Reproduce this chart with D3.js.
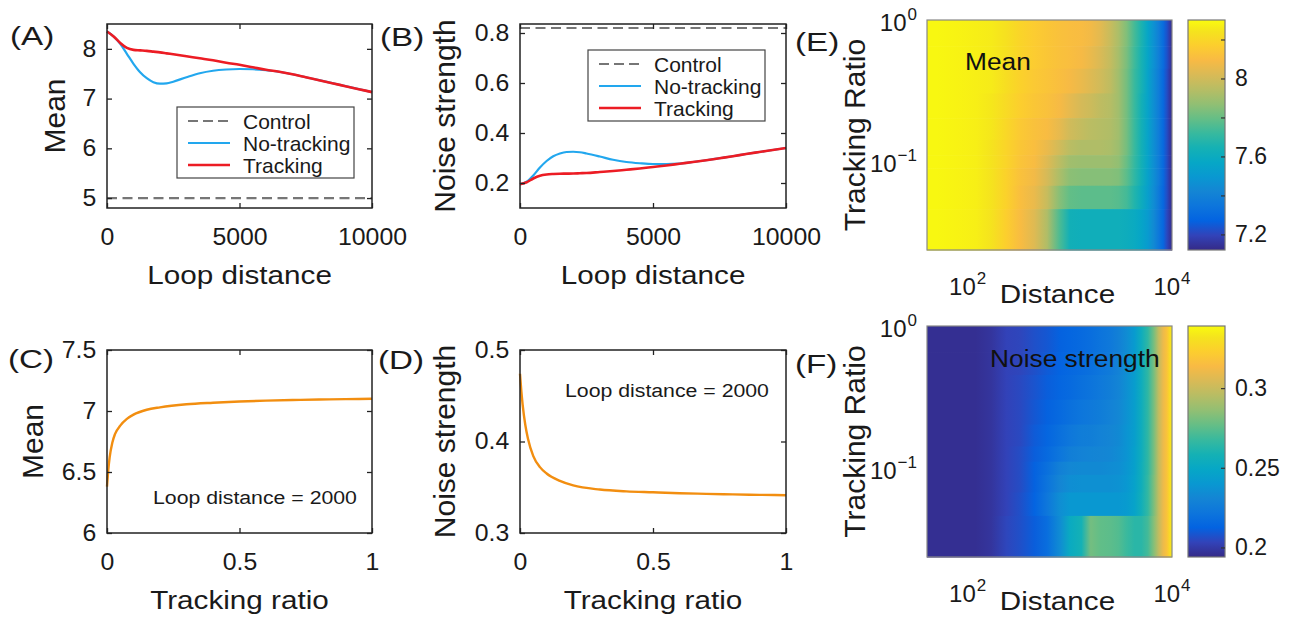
<!DOCTYPE html>
<html>
<head>
<meta charset="utf-8">
<script src="https://cdn.jsdelivr.net/npm/d3@7"></script>
<style>
  body { margin: 0; background: #fff; }
  text { font-family: Arial, "Liberation Sans", Helvetica, sans-serif; fill: #1a1a1a; }
</style>
</head>
<body>
<script>
// ---- data ----
var loopDist = [0, 250, 500, 750, 1000, 1250, 1500, 1750, 2000, 2250, 2500, 3000, 3500,
                4000, 4500, 5000, 5500, 6000, 6500, 7000, 7500, 8000, 8500, 9000, 9500, 10000];
var meanTrack   = [8.35, 8.25, 8.12, 8.02, 7.98, 7.97, 7.96, 7.945, 7.93, 7.91, 7.89, 7.85, 7.81,
                   7.77, 7.72, 7.68, 7.63, 7.58, 7.54, 7.49, 7.43, 7.37, 7.31, 7.25, 7.19, 7.13];
var meanNoTrack = [8.35, 8.25, 8.10, 7.90, 7.70, 7.53, 7.41, 7.33, 7.30, 7.305, 7.34, 7.43, 7.51,
                   7.56, 7.585, 7.595, 7.59, 7.57, 7.54, 7.49, 7.43, 7.37, 7.31, 7.25, 7.19, 7.13];
var meanControl = 5.0;

var noiseTrack   = [0.195, 0.203, 0.218, 0.229, 0.234, 0.236, 0.237, 0.2375, 0.238, 0.239, 0.240, 0.244, 0.248,
                    0.253, 0.258, 0.264, 0.270, 0.277, 0.284, 0.291, 0.299, 0.307, 0.316, 0.324, 0.332, 0.340];
var noiseNoTrack = [0.195, 0.205, 0.230, 0.262, 0.288, 0.307, 0.318, 0.324, 0.325, 0.323, 0.318, 0.306, 0.293,
                    0.284, 0.279, 0.276, 0.276, 0.278, 0.284, 0.291, 0.299, 0.307, 0.316, 0.324, 0.332, 0.340];
var noiseControl = 0.82;

var trackRatio   = [0, 0.005, 0.01, 0.02, 0.03, 0.05, 0.075, 0.1, 0.15, 0.2, 0.3, 0.4, 0.5, 0.6, 0.7, 0.8, 0.9, 1];
var meanVsRatio  = [6.38, 6.52, 6.62, 6.74, 6.81, 6.88, 6.935, 6.97, 7.01, 7.03, 7.055, 7.068, 7.078, 7.085, 7.09, 7.094, 7.097, 7.10];
var noiseVsRatio = [0.474, 0.455, 0.440, 0.418, 0.403, 0.384, 0.372, 0.365, 0.357, 0.352, 0.3475, 0.3455, 0.3445, 0.3435, 0.3428, 0.3422, 0.3417, 0.3413];

// heat map grid: distance columns, tracking-ratio row edges (top to bottom)
var gridDist = [50, 80, 120, 170, 240, 330, 450, 600, 800, 1000, 1300, 1600, 2000, 2500, 3000,
                3600, 4300, 5000, 5800, 6600, 7400, 8200, 8900, 9500, 10000];
var gridRatioEdges = [1, 0.65, 0.45, 0.3, 0.2, 0.14, 0.109, 0.088, 0.066, 0.045, 0.023];

var meanGrid = [
  [8.29, 8.28, 8.27, 8.26, 8.23, 8.19, 8.16, 8.14, 8.12, 8.11, 8.10, 8.08, 8.04, 7.98, 7.92, 7.84, 7.74, 7.66, 7.56, 7.47, 7.39, 7.31, 7.23, 7.17, 7.13],
  [8.29, 8.28, 8.27, 8.26, 8.23, 8.19, 8.16, 8.14, 8.12, 8.11, 8.09, 8.06, 8.02, 7.97, 7.91, 7.83, 7.73, 7.65, 7.56, 7.47, 7.39, 7.31, 7.23, 7.17, 7.13],
  [8.29, 8.28, 8.27, 8.26, 8.22, 8.18, 8.15, 8.13, 8.11, 8.09, 8.06, 8.03, 8.00, 7.96, 7.90, 7.82, 7.72, 7.65, 7.55, 7.46, 7.38, 7.30, 7.22, 7.16, 7.13],
  [8.29, 8.28, 8.27, 8.25, 8.21, 8.17, 8.14, 8.12, 8.09, 8.05, 8.01, 7.99, 7.96, 7.94, 7.90, 7.82, 7.72, 7.64, 7.55, 7.46, 7.38, 7.30, 7.22, 7.16, 7.13],
  [8.29, 8.28, 8.27, 8.25, 8.20, 8.15, 8.12, 8.10, 8.05, 8.00, 7.97, 7.95, 7.94, 7.93, 7.90, 7.82, 7.72, 7.64, 7.55, 7.46, 7.38, 7.30, 7.22, 7.16, 7.13],
  [8.29, 8.28, 8.27, 8.24, 8.19, 8.14, 8.11, 8.06, 8.00, 7.95, 7.93, 7.93, 7.93, 7.92, 7.89, 7.82, 7.72, 7.64, 7.55, 7.46, 7.38, 7.30, 7.22, 7.16, 7.13],
  [8.29, 8.28, 8.27, 8.24, 8.19, 8.13, 8.10, 8.03, 7.95, 7.90, 7.89, 7.89, 7.89, 7.89, 7.87, 7.80, 7.71, 7.64, 7.55, 7.46, 7.38, 7.30, 7.22, 7.16, 7.13],
  [8.29, 8.28, 8.27, 8.24, 8.18, 8.12, 8.08, 8.01, 7.92, 7.86, 7.85, 7.85, 7.85, 7.85, 7.84, 7.78, 7.70, 7.63, 7.54, 7.46, 7.38, 7.30, 7.22, 7.16, 7.13],
  [8.29, 8.28, 8.27, 8.24, 8.18, 8.11, 8.06, 7.98, 7.85, 7.79, 7.78, 7.78, 7.78, 7.78, 7.77, 7.74, 7.67, 7.61, 7.53, 7.45, 7.37, 7.29, 7.22, 7.16, 7.13],
  [8.29, 8.28, 8.27, 8.24, 8.17, 8.10, 8.03, 7.93, 7.75, 7.63, 7.62, 7.62, 7.62, 7.62, 7.62, 7.61, 7.59, 7.56, 7.51, 7.44, 7.36, 7.29, 7.21, 7.16, 7.13]
];

var noiseGrid = [
  [0.196, 0.196, 0.196, 0.198, 0.203, 0.204, 0.207, 0.209, 0.212, 0.214, 0.216, 0.218, 0.221, 0.224, 0.228, 0.234, 0.242, 0.254, 0.265, 0.280, 0.298, 0.310, 0.318, 0.328, 0.336],
  [0.196, 0.196, 0.196, 0.198, 0.203, 0.204, 0.207, 0.210, 0.213, 0.215, 0.217, 0.219, 0.222, 0.225, 0.229, 0.235, 0.243, 0.254, 0.265, 0.280, 0.298, 0.310, 0.318, 0.328, 0.336],
  [0.196, 0.196, 0.196, 0.198, 0.203, 0.205, 0.208, 0.211, 0.214, 0.216, 0.219, 0.221, 0.224, 0.227, 0.230, 0.236, 0.243, 0.254, 0.265, 0.280, 0.298, 0.310, 0.318, 0.328, 0.336],
  [0.196, 0.196, 0.196, 0.198, 0.203, 0.205, 0.209, 0.212, 0.216, 0.219, 0.222, 0.224, 0.226, 0.229, 0.232, 0.237, 0.244, 0.254, 0.265, 0.280, 0.298, 0.310, 0.318, 0.328, 0.336],
  [0.196, 0.196, 0.196, 0.198, 0.203, 0.205, 0.210, 0.214, 0.219, 0.223, 0.226, 0.227, 0.229, 0.231, 0.233, 0.238, 0.244, 0.254, 0.265, 0.280, 0.298, 0.310, 0.318, 0.328, 0.336],
  [0.196, 0.196, 0.196, 0.198, 0.203, 0.206, 0.211, 0.216, 0.222, 0.227, 0.229, 0.230, 0.231, 0.232, 0.234, 0.238, 0.245, 0.254, 0.265, 0.280, 0.298, 0.310, 0.318, 0.328, 0.336],
  [0.196, 0.196, 0.196, 0.198, 0.203, 0.206, 0.212, 0.219, 0.228, 0.232, 0.233, 0.233, 0.233, 0.234, 0.235, 0.239, 0.245, 0.255, 0.265, 0.280, 0.298, 0.310, 0.318, 0.328, 0.336],
  [0.196, 0.196, 0.196, 0.198, 0.203, 0.206, 0.212, 0.221, 0.231, 0.235, 0.236, 0.236, 0.236, 0.236, 0.237, 0.240, 0.246, 0.255, 0.266, 0.281, 0.298, 0.310, 0.318, 0.328, 0.336],
  [0.196, 0.196, 0.196, 0.198, 0.203, 0.207, 0.213, 0.223, 0.235, 0.240, 0.240, 0.240, 0.240, 0.240, 0.240, 0.242, 0.247, 0.256, 0.266, 0.281, 0.298, 0.310, 0.318, 0.328, 0.336],
  [0.196, 0.196, 0.196, 0.198, 0.204, 0.207, 0.211, 0.218, 0.234, 0.252, 0.258, 0.280, 0.276, 0.275, 0.273, 0.268, 0.264, 0.264, 0.270, 0.283, 0.298, 0.310, 0.318, 0.328, 0.336]
];

var meanCbTicks  = [7.2, 7.4, 7.6, 7.8, 8.0, 8.2];
var meanCbLabels = ["7.2", "", "7.6", "", "8", ""];
var noiseCbTicks  = [0.2, 0.25, 0.3];
var noiseCbLabels = ["0.2", "0.25", "0.3"];

// MATLAB parula, every 4th entry of the 64-colour map
var parulaPos = [0, 4, 8, 12, 16, 20, 24, 28, 32, 36, 40, 44, 48, 52, 56, 60, 63];
var parula = ["#352a87", "#3243b9", "#0363e1", "#0d75dc", "#1485d4", "#0998d1", "#06a7c6", "#15b1b4",
              "#38b99e", "#65be86", "#92bf73", "#b7bd64", "#d9ba56", "#f8ba44", "#fcce2e", "#f5e41d", "#f9fb0e"];

var width = 1300, height = 619;
var svg = d3.select("body").append("svg")
    .attr("width", width)
    .attr("height", height);
var defs = svg.append("defs");

// horizontal text in the figure is wider than Arial, so stretch it a little
function label(g, x, y, str, size, anchor, sx, rotate) {
  return g.append("text")
      .attr("font-size", size)
      .attr("text-anchor", anchor || "start")
      .attr("transform", "translate(" + x + "," + y + ")" +
            (rotate ? " rotate(-90)" : "") + " scale(" + (sx || 1) + ",1)")
      .text(str);
}

function styleAxis(ax, size, sx) {
  ax.select(".domain").remove();
  ax.selectAll("line").attr("stroke", "#222").attr("stroke-width", 1.3);
  ax.selectAll("text")
      .attr("font-size", size)
      .attr("fill", "#1a1a1a")
      .attr("transform", "scale(" + (sx || 1.08) + ",1)");
}

function linePanel(c) {
  var x = d3.scaleLinear().domain(c.xDomain).range([c.left, c.right]);
  var y = d3.scaleLinear().domain(c.yDomain).range([c.bottom, c.top]);
  var g = svg.append("g");

  var line = d3.line()
      .x(function(d){ return x(d[0]); })
      .y(function(d){ return y(d[1]); })
      .curve(d3.curveMonotoneX);

  c.series.forEach(function(s){
    var pts = s.y.map(function(v, i){ return [s.x[i], v]; });
    g.append("path")
        .datum(pts)
        .attr("fill", "none")
        .attr("stroke", s.color)
        .attr("stroke-width", s.width)
        .attr("stroke-dasharray", s.dash || null)
        .attr("d", line);
  });

  // box and inward ticks on all four sides
  g.append("rect")
      .attr("x", c.left).attr("y", c.top)
      .attr("width", c.right - c.left).attr("height", c.bottom - c.top)
      .attr("fill", "none").attr("stroke", "#222").attr("stroke-width", 1.5);

  var bx = g.append("g").attr("transform", "translate(0," + c.bottom + ")")
      .call(d3.axisBottom(x).tickValues(c.xTicks).tickFormat(c.xFmt)
            .tickSizeInner(-5).tickSizeOuter(0).tickPadding(21));
  styleAxis(bx, 23);
  var tx = g.append("g").attr("transform", "translate(0," + c.top + ")")
      .call(d3.axisTop(x).tickValues(c.xTicks).tickFormat("").tickSizeInner(-5).tickSizeOuter(0));
  styleAxis(tx, 23);
  var ly = g.append("g").attr("transform", "translate(" + c.left + ",0)")
      .call(d3.axisLeft(y).tickValues(c.yTicks).tickFormat(c.yFmt)
            .tickSizeInner(-5).tickSizeOuter(0).tickPadding(10));
  styleAxis(ly, 23);
  var ry = g.append("g").attr("transform", "translate(" + c.right + ",0)")
      .call(d3.axisRight(y).tickValues(c.yTicks).tickFormat("").tickSizeInner(-5).tickSizeOuter(0));
  styleAxis(ry, 23);

  label(g, (c.left + c.right) / 2, c.bottom + 76, c.xLabel, 26.5, "middle", 1.12);
  label(g, c.yLabelX, (c.top + c.bottom) / 2, c.yLabel, 30, "middle", 1, true);
  label(g, c.tagX, c.tagY, c.tag, 25, "start", 1.33);

  if (c.legend) {
    var L = c.legend;
    var lg = g.append("g").attr("transform", "translate(" + L.x + "," + L.y + ")");
    lg.append("rect").attr("width", L.w).attr("height", L.h)
        .attr("fill", "#fff").attr("stroke", "#444").attr("stroke-width", 1.2);
    L.items.forEach(function(it, i){
      var yy = 14 + i * 22;
      lg.append("line").attr("x1", 11).attr("x2", 53).attr("y1", yy).attr("y2", yy)
          .attr("stroke", it.color).attr("stroke-width", it.width)
          .attr("stroke-dasharray", it.dash || null);
      label(lg, 66, yy + 7.5, it.label, 21, "start", 1);
    });
  }
  if (c.note) label(g, c.note.x, c.note.y, c.note.text, 19, "start", 1.12);
}

var cControl = "#767676", cNoTrack = "#22a7ee", cTrack = "#ec1c24", cOrange = "#f28e10";
var legendItems = [
  { label: "Control", color: cControl, width: 2, dash: "10,5" },
  { label: "No-tracking", color: cNoTrack, width: 2 },
  { label: "Tracking", color: cTrack, width: 2.5 }
];

// (A)
linePanel({
  left: 107, right: 372, top: 24, bottom: 208,
  xDomain: [0, 10000], yDomain: [4.8, 8.5],
  xTicks: [0, 5000, 10000], yTicks: [5, 6, 7, 8],
  xFmt: d3.format("d"), yFmt: d3.format("d"),
  xLabel: "Loop distance", yLabel: "Mean", yLabelX: 65,
  tag: "(A)", tagX: 10, tagY: 45,
  series: [
    { x: [0, 10000], y: [meanControl, meanControl], color: cControl, width: 2.2, dash: "10,5.5" },
    { x: loopDist, y: meanNoTrack, color: cNoTrack, width: 2.2 },
    { x: loopDist, y: meanTrack, color: cTrack, width: 2.6 }
  ],
  legend: { x: 177, y: 107, w: 177, h: 71, items: legendItems }
});

// (B)
linePanel({
  left: 520, right: 786, top: 24, bottom: 208,
  xDomain: [0, 10000], yDomain: [0.1, 0.836],
  xTicks: [0, 5000, 10000], yTicks: [0.2, 0.4, 0.6, 0.8],
  xFmt: d3.format("d"), yFmt: d3.format(".1f"),
  xLabel: "Loop distance", yLabel: "Noise strength", yLabelX: 455,
  tag: "(B)", tagX: 380, tagY: 46,
  series: [
    { x: [0, 10000], y: [noiseControl, noiseControl], color: cControl, width: 2.2, dash: "10,5.5" },
    { x: loopDist, y: noiseNoTrack, color: cNoTrack, width: 2.2 },
    { x: loopDist, y: noiseTrack, color: cTrack, width: 2.6 }
  ],
  legend: { x: 588, y: 50, w: 177, h: 71, items: legendItems }
});

// (C)
linePanel({
  left: 107, right: 372, top: 350, bottom: 533,
  xDomain: [0, 1], yDomain: [6, 7.5],
  xTicks: [0, 0.5, 1], yTicks: [6, 6.5, 7, 7.5],
  xFmt: d3.format(""), yFmt: d3.format(""),
  xLabel: "Tracking ratio", yLabel: "Mean", yLabelX: 43,
  tag: "(C)", tagX: 8, tagY: 368,
  series: [ { x: trackRatio, y: meanVsRatio, color: cOrange, width: 2.4 } ],
  note: { x: 153, y: 504, text: "Loop distance = 2000" }
});

// (D)
linePanel({
  left: 520, right: 786, top: 350, bottom: 533,
  xDomain: [0, 1], yDomain: [0.3, 0.5],
  xTicks: [0, 0.5, 1], yTicks: [0.3, 0.4, 0.5],
  xFmt: d3.format(""), yFmt: d3.format(".1f"),
  xLabel: "Tracking ratio", yLabel: "Noise strength", yLabelX: 455,
  tag: "(D)", tagX: 378, tagY: 369,
  series: [ { x: trackRatio, y: noiseVsRatio, color: cOrange, width: 2.4 } ],
  note: { x: 565, y: 397, text: "Loop distance = 2000" }
});

// heat maps
var parulaScale = d3.scaleLinear()
    .domain(parulaPos.map(function(p){ return p / 63; }))
    .range(parula)
    .interpolate(d3.interpolateRgb)
    .clamp(true);

function powLabel(g, x, y, exp, anchor) {
  var t = g.append("text").attr("x", x).attr("y", y)
      .attr("font-size", 24).attr("text-anchor", anchor);
  t.append("tspan").text("10");
  t.append("tspan").attr("font-size", 17).attr("dx", 1).attr("dy", -11).text(exp);
}

function heatPanel(c) {
  var x = d3.scaleLog().domain([40, 10000]).range([c.left, c.right]);
  var y = d3.scaleLog().domain([gridRatioEdges[gridRatioEdges.length - 1], 1]).range([c.bottom, c.top]);
  var color = d3.scaleSequential(parulaScale).domain(c.cDomain);
  var g = svg.append("g");
  var id = c.tag.replace(/\W/g, "");

  // one band per tracking-ratio row, shaded across the distance columns
  c.grid.forEach(function(row, r){
    var grad = defs.append("linearGradient")
        .attr("id", "row" + id + r)
        .attr("gradientUnits", "userSpaceOnUse")
        .attr("x1", c.left).attr("x2", c.right).attr("y1", 0).attr("y2", 0);
    row.forEach(function(v, k){
      grad.append("stop")
          .attr("offset", (x(gridDist[k]) - c.left) / (c.right - c.left))
          .attr("stop-color", color(v));
    });
  });
  g.selectAll(".band")
      .data(c.grid)
      .enter()
      .append("rect")
      .attr("class", "band")
      .attr("x", c.left)
      .attr("y", function(d, r){ return y(gridRatioEdges[r]); })
      .attr("width", c.right - c.left)
      .attr("height", function(d, r){ return y(gridRatioEdges[r + 1]) - y(gridRatioEdges[r]) + 0.6; })
      .attr("fill", function(d, r){ return "url(#row" + id + r + ")"; });

  g.append("rect")
      .attr("x", c.left).attr("y", c.top)
      .attr("width", c.right - c.left).attr("height", c.bottom - c.top)
      .attr("fill", "none").attr("stroke", "#888").attr("stroke-width", 1.2);

  powLabel(g, c.left - 10, y(1) + 11, "0", "end");
  powLabel(g, c.left - 10, y(0.1) + 12, "\u22121", "end");
  powLabel(g, x(100), c.bottom + 45, "2", "middle");
  powLabel(g, x(10000), c.bottom + 45, "4", "middle");

  label(g, (c.left + c.right) / 2 + 8, c.bottom + 53, "Distance", 26.5, "middle", 1.12);
  label(g, 865, (c.top + c.bottom) / 2, "Tracking Ratio", 30, "middle", 1, true);
  label(g, 795, c.tagY, c.tag, 25, "start", 1.33);
  label(g, c.title.x, c.title.y, c.title.text, 23.5, "start", 1.12).style("fill", "#111");

  // colour bar
  var cb = { left: 1188, right: 1225 };
  var grad = defs.append("linearGradient")
      .attr("id", "cb" + id).attr("x1", 0).attr("y1", 1).attr("x2", 0).attr("y2", 0);
  parula.forEach(function(col, i){
    grad.append("stop").attr("offset", parulaPos[i] / 63).attr("stop-color", col);
  });
  g.append("rect")
      .attr("x", cb.left).attr("y", c.top)
      .attr("width", cb.right - cb.left).attr("height", c.bottom - c.top)
      .attr("fill", "url(#cb" + id + ")").attr("stroke", "#777").attr("stroke-width", 1.2);
  var cy = d3.scaleLinear().domain(c.cDomain).range([c.bottom, c.top]);
  var cax = g.append("g").attr("transform", "translate(" + cb.right + ",0)")
      .call(d3.axisRight(cy).tickValues(c.cbTicks)
            .tickFormat(function(d, i){ return c.cbLabels[i]; })
            .tickSizeInner(-4).tickSizeOuter(0).tickPadding(10));
  styleAxis(cax, 23, 1);
  cax.selectAll("line").attr("stroke", "#333").attr("stroke-width", 1.2);
  cax.selectAll("text").attr("fill", "#3c3c3c");
}

// (E)
heatPanel({
  left: 927, right: 1172, top: 20, bottom: 250,
  grid: meanGrid, cDomain: [7.12, 8.30],
  cbTicks: meanCbTicks, cbLabels: meanCbLabels,
  tag: "(E)", tagY: 51,
  title: { x: 965, y: 70, text: "Mean" }
});

// (F)
heatPanel({
  left: 927, right: 1172, top: 326, bottom: 557,
  grid: noiseGrid, cDomain: [0.194, 0.339],
  cbTicks: noiseCbTicks, cbLabels: noiseCbLabels,
  tag: "(F)", tagY: 373,
  title: { x: 990, y: 367, text: "Noise strength" }
});
</script>
</body>
</html>
